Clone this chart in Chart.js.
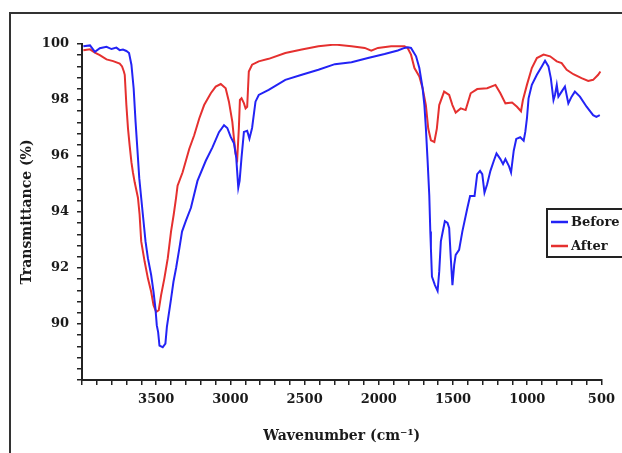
<!DOCTYPE html>
<html>
<head>
<meta charset="utf-8">
<title>FTIR Before / After</title>
<script src="https://cdn.jsdelivr.net/npm/chart.js@4/dist/chart.umd.min.js"></script>
<style>
  html, body { margin: 0; padding: 0; background: #fff; overflow: hidden; }
  canvas { display: block; }
</style>
</head>
<body>
<canvas id="ftir" width="622" height="453"></canvas>
<script>
// Spectrum before treatment (wavenumber cm-1 / transmittance %)
var beforeWave = [3991, 3946, 3913, 3880, 3835, 3801, 3768, 3746, 3724, 3701, 3683, 3667, 3652, 3639, 3627, 3614, 3601,
  3590, 3572, 3556, 3534, 3518, 3505, 3496, 3487, 3478, 3456, 3438, 3428, 3414, 3400, 3384, 3366, 3344, 3326, 3299,
  3266, 3222, 3166, 3121, 3077, 3043, 3021, 2998, 2976, 2961, 2947, 2938, 2925, 2909, 2887, 2872, 2854, 2831, 2809,
  2742, 2630, 2519, 2407, 2296, 2184, 2073, 1961, 1872, 1827, 1805, 1783, 1749, 1727, 1705, 1693, 1683, 1671, 1660,
  1653, 1649, 1642, 1622, 1604, 1593, 1582, 1571, 1555, 1537, 1526, 1515, 1504, 1492, 1482, 1459, 1437, 1403, 1385,
  1355, 1337, 1318, 1303, 1288, 1270, 1248, 1225, 1207, 1181, 1163, 1147, 1124, 1109, 1091, 1074, 1047, 1024, 1013,
  1002, 991, 969, 935, 902, 880, 857, 841, 823, 813, 801, 790, 768, 746, 723, 701, 679, 645, 600, 556, 534, 511];
var beforeT = [99.92, 99.95, 99.72, 99.85, 99.90, 99.82, 99.87, 99.78, 99.80, 99.75, 99.68, 99.26, 98.42, 97.22, 96.26, 95.2, 94.5,
  93.91, 92.95, 92.35, 91.75, 91.15, 90.55, 89.95, 89.71, 89.23, 89.17, 89.3, 89.9, 90.4, 90.9, 91.5, 92.0, 92.7, 93.3, 93.7,
  94.15, 95.11, 95.83, 96.31, 96.85, 97.1, 97.0, 96.68, 96.45, 95.95, 94.87, 95.11, 95.95, 96.86, 96.9, 96.62, 97.0, 97.94, 98.18,
  98.36, 98.72, 98.90, 99.08, 99.28, 99.35, 99.50, 99.64, 99.77, 99.86, 99.88, 99.86, 99.56, 99.14, 98.42, 97.82, 97.0, 95.8, 94.6,
  93.3, 92.71, 91.69, 91.39, 91.18, 91.87, 92.95, 93.25, 93.67, 93.61, 93.43, 92.35, 91.39, 92.11, 92.47, 92.65, 93.31, 94.15, 94.57,
  94.57, 95.35, 95.47, 95.35, 94.69, 94.99, 95.47, 95.83, 96.09, 95.89, 95.71, 95.89, 95.65, 95.41, 96.19, 96.61, 96.67, 96.55, 96.86,
  97.34, 98.06, 98.54, 98.90, 99.20, 99.40, 99.20, 98.78, 98.00, 98.18, 98.54, 98.12, 98.30, 98.48, 97.88, 98.12, 98.30, 98.12, 97.76, 97.46, 97.40, 97.46];

// Spectrum after treatment
var afterWave = [3991, 3946, 3913, 3880, 3835, 3790, 3746, 3730, 3718, 3712, 3701, 3690, 3679, 3667, 3657, 3645, 3623, 3612,
  3601, 3578, 3556, 3534, 3518, 3500, 3483, 3467, 3445, 3422, 3400, 3382, 3366, 3356, 3322, 3277, 3244, 3210, 3177,
  3132, 3099, 3065, 3032, 3010, 2987, 2976, 2965, 2954, 2943, 2936, 2925, 2910, 2898, 2887, 2876, 2854, 2809, 2742,
  2630, 2519, 2407, 2296, 2184, 2095, 2051, 2006, 1917, 1827, 1805, 1783, 1760, 1727, 1705, 1683, 1667, 1649, 1626,
  1609, 1593, 1560, 1526, 1504, 1482, 1448, 1415, 1381, 1337, 1270, 1214, 1181, 1147, 1102, 1069, 1042, 1029, 1002,
  969, 935, 890, 846, 801, 768, 734, 689, 634, 589, 556, 522, 507];
var afterT = [99.78, 99.81, 99.69, 99.60, 99.45, 99.39, 99.3, 99.2, 99.02, 98.9, 97.82, 96.98, 96.38, 95.78, 95.42, 95.06, 94.51, 93.91,
  92.95, 92.23, 91.63, 91.15, 90.67, 90.43, 90.49, 91.03, 91.63, 92.35, 93.31, 93.91, 94.51, 94.94, 95.42, 96.26, 96.74, 97.34, 97.82,
  98.24, 98.48, 98.57, 98.42, 97.94, 97.22, 96.62, 96.08, 95.90, 97.0, 98.0, 98.06, 97.9, 97.70, 97.76, 99.02, 99.26, 99.38, 99.47,
  99.68, 99.80, 99.92, 99.98, 99.92, 99.86, 99.76, 99.86, 99.92, 99.92, 99.85, 99.62, 99.14, 98.84, 98.42, 97.82, 96.98, 96.56, 96.50,
  96.98, 97.82, 98.30, 98.18, 97.82, 97.55, 97.70, 97.64, 98.24, 98.39, 98.42, 98.54, 98.24, 97.88, 97.91, 97.76, 97.60, 98.00, 98.54,
  99.14, 99.50, 99.62, 99.56, 99.38, 99.32, 99.08, 98.92, 98.78, 98.68, 98.72, 98.90, 99.02];

var seriesNames = ['Before', 'After'];
var seriesColors = ['#2323f5', '#e5302f'];

function toPoints(xs, ys) {
  return xs.map(function (x, i) { return { x: x, y: ys[i] }; });
}

Chart.defaults.font.family = '"DejaVu Serif", serif';
Chart.defaults.font.weight = 'bold';
Chart.defaults.color = '#1a1a1a';

// outer frame around the whole figure
var framePlugin = {
  id: 'frame',
  beforeDraw: function (chart) {
    var ctx = chart.ctx;
    ctx.save();
    ctx.fillStyle = '#fff';
    ctx.fillRect(0, 0, chart.width, chart.height);
    ctx.strokeStyle = '#333';
    ctx.lineWidth = 2;
    ctx.strokeRect(10, 13, 700, 520);
    ctx.restore();
  }
};

// boxed legend sitting on the right of the plot
var boxLegend = {
  id: 'boxLegend',
  afterDraw: function (chart) {
    var ctx = chart.ctx;
    var x = 547, y = 209;
    ctx.save();
    ctx.fillStyle = '#fff';
    ctx.fillRect(x, y, 100, 48);
    ctx.strokeStyle = '#222';
    ctx.lineWidth = 2;
    ctx.strokeRect(x, y, 100, 48);
    ctx.font = 'bold 13px "DejaVu Serif", serif';
    ctx.textBaseline = 'middle';
    chart.data.datasets.forEach(function (ds, i) {
      var ly = y + 13 + i * 24;
      ctx.strokeStyle = ds.borderColor;
      ctx.lineWidth = 2.5;
      ctx.beginPath();
      ctx.moveTo(x + 4, ly);
      ctx.lineTo(x + 21, ly);
      ctx.stroke();
      ctx.fillStyle = '#1a1a1a';
      ctx.fillText(ds.label, x + 24, ly + 1);
    });
    ctx.restore();
  }
};

new Chart(document.getElementById('ftir').getContext('2d'), {
  type: 'line',
  data: {
    datasets: [
      { label: seriesNames[0], data: toPoints(beforeWave, beforeT), borderColor: seriesColors[0], borderWidth: 2, pointRadius: 0, tension: 0 },
      { label: seriesNames[1], data: toPoints(afterWave, afterT), borderColor: seriesColors[1], borderWidth: 2, pointRadius: 0, tension: 0 }
    ]
  },
  options: {
    responsive: false,
    animation: false,
    layout: { padding: { left: 15, top: 44, right: 19, bottom: 0 } },
    plugins: { legend: { display: false }, tooltip: { enabled: false } },
    scales: {
      x: {
        type: 'linear',
        reverse: true,
        min: 500,
        max: 4000,
        afterFit: function (s) { s.height = 73; },
        border: { display: true, color: '#222', width: 2 },
        grid: { drawOnChartArea: false, drawTicks: true, tickLength: 5, color: '#222', lineWidth: 1.5 },
        ticks: {
          stepSize: 100,
          autoSkip: false,
          maxRotation: 0,
          minRotation: 0,
          padding: 7,
          font: { size: 13 },
          callback: function (v) { return (v % 500 === 0 && v !== 4000) ? String(v) : ''; }
        },
        title: { display: true, text: 'Wavenumber (cm⁻¹)', font: { size: 14 }, padding: { top: 4, bottom: 8 } }
      },
      y: {
        min: 88,
        max: 100,
        afterFit: function (s) { s.width = 67; },
        border: { display: true, color: '#222', width: 2 },
        grid: { drawOnChartArea: false, drawTicks: true, tickLength: 5, color: '#222', lineWidth: 1.5 },
        ticks: {
          stepSize: 0.4,
          autoSkip: false,
          padding: 8,
          font: { size: 13 },
          callback: function (v) {
            var r = Math.round(v * 10) / 10;
            return (r % 2 === 0 && r !== 88) ? String(r) : '';
          }
        },
        title: { display: true, text: 'Transmittance (%)', font: { size: 14 }, padding: { top: 4, bottom: 4 } }
      }
    }
  },
  plugins: [framePlugin, boxLegend]
});
</script>
</body>
</html>
